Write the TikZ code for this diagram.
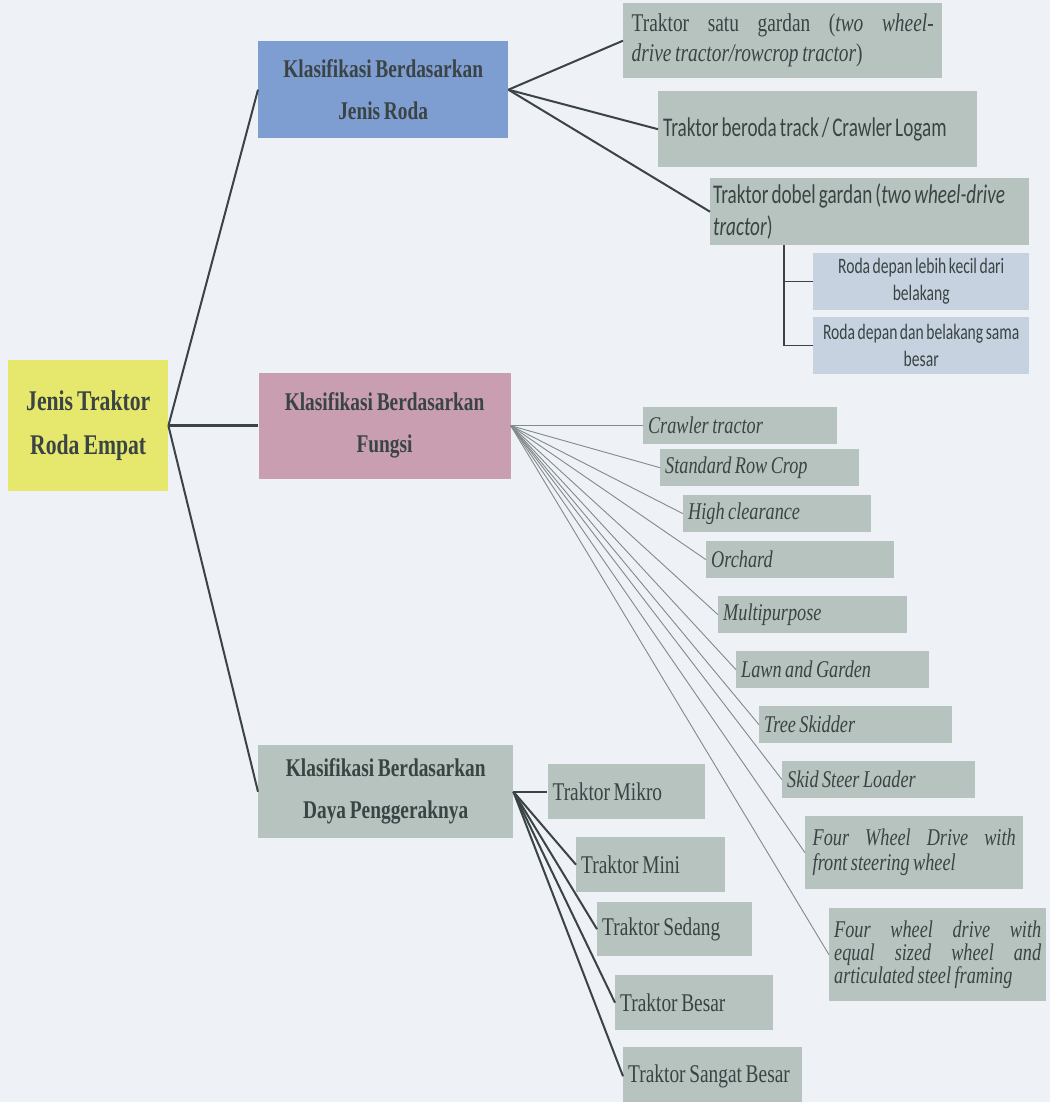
\documentclass[tikz,border=0pt]{standalone}
\usepackage{fontspec}
\setmainfont{Liberation Serif}[FakeStretch=0.76, WordSpace=0.76]
\newfontfamily\calfont{Carlito}[FakeStretch=0.71, WordSpace=0.71]
\usetikzlibrary{positioning}

\definecolor{bgpage}{RGB}{238,241,246}
\definecolor{rootyellow}{RGB}{229,232,108}
\definecolor{rodablue}{RGB}{126,158,210}
\definecolor{fungsipink}{RGB}{200,158,176}
\definecolor{sage}{RGB}{182,195,190}
\definecolor{paleblue}{RGB}{199,210,224}
\definecolor{inkgray}{RGB}{58,68,68}
\definecolor{wiregray}{RGB}{130,138,138}

\begin{document}
\begin{tikzpicture}[
    x=1pt, y=-1pt,
    every node/.style={text=inkgray},
    catbox/.style={
        align=center,
        inner sep=0pt,
        font=\fontsize{25.5}{42}\selectfont\bfseries
    },
    leaf/.style={
        fill=sage,
        align=flush left,
        inner xsep=5pt,
        inner ysep=0pt
    },
    serifitem/.style={leaf, font=\fontsize{25.5}{30}\selectfont},
    slanted/.style={leaf, font=\fontsize{24}{24}\selectfont\itshape},
    calitem/.style={leaf, font=\calfont\fontsize{27}{32}\selectfont},
    wheelbox/.style={
        fill=paleblue,
        align=flush center,
        inner xsep=3pt,
        inner ysep=0pt,
        text width=210pt,
        minimum height=57pt,
        font=\calfont\fontsize{22}{27}\selectfont
    },
    trunk/.style={draw=inkgray, line width=2pt},
    twig/.style={draw=wiregray, line width=0.9pt}
]

\fill[bgpage] (0,0) rectangle (1050,1102);
\useasboundingbox (0,0) rectangle (1050,1102);

% root and the three classes
\node[catbox, anchor=north west, fill=rootyellow, minimum width=160pt, minimum height=131pt,
      font=\fontsize{28.5}{44}\selectfont\bfseries] (root) at (8,360) {Jenis Traktor\\Roda Empat};
\node[catbox, anchor=north west, fill=rodablue, minimum width=250pt, minimum height=97pt] (roda) at (258,41)
    {Klasifikasi Berdasarkan\\Jenis Roda};
\node[catbox, fill=fungsipink, minimum width=252pt, minimum height=106pt, right=90pt of root] (fungsi)
    {Klasifikasi Berdasarkan\\Fungsi};
\node[catbox, anchor=north west, fill=sage, minimum width=255pt, minimum height=93pt] (daya) at (258,745)
    {Klasifikasi Berdasarkan\\Daya Penggeraknya};

\draw[trunk] (root.east) -- (roda.west);
\draw[trunk, line width=3.5pt] (root.east) -- (fungsi.west);
\draw[trunk] (root.east) -- (daya.west);

% jenis roda
\node[serifitem, anchor=north west, align=justify, minimum width=319pt, text width=302pt, minimum height=75pt] (roda1) at (623,3)
    {Traktor satu gardan (\textit{two wheel-}\linebreak\textit{drive tractor/rowcrop tractor})};
\node[calitem, anchor=north west, text width=309pt, minimum height=76pt] (roda2) at (658,91)
    {Traktor beroda track / Crawler Logam};
\node[calitem, anchor=north west, text width=313pt, inner xsep=3pt, minimum height=67pt] (roda3) at (710,178)
    {Traktor dobel gardan (\textit{two wheel-drive}\\\textit{tractor})};
\node[wheelbox, anchor=north west] (wheelA) at (813,253) {Roda depan lebih kecil dari\\belakang};
\node[wheelbox, anchor=north west] (wheelB) at (813,317) {Roda depan dan belakang sama\\besar};

\draw[trunk] (roda.east) -- (roda1.west);
\draw[trunk] (roda.east) -- (roda2.west);
\draw[trunk] (roda.east) -- (roda3.west);
\draw[trunk, line width=1.5pt] ([xshift=74pt]roda3.south west) |- (wheelA.west);
\draw[trunk, line width=1.5pt] ([xshift=74pt]roda3.south west) |- (wheelB.west);

% fungsi
\node[slanted, text width=184pt, minimum height=37pt, right=132pt of fungsi] (crawler) {Crawler tractor};
\node[slanted, anchor=north west, text width=189pt, minimum height=37pt] (rowcrop) at (660,449) {Standard Row Crop};
\node[slanted, anchor=north west, text width=178pt, minimum height=37pt] (clear) at (683,495) {High clearance};
\node[slanted, anchor=north west, text width=178pt, minimum height=37pt] (orchard) at (706,541) {Orchard};
\node[slanted, anchor=north west, text width=179pt, minimum height=37pt] (multi) at (718,596) {Multipurpose};
\node[slanted, anchor=north west, text width=183pt, minimum height=37pt] (lawn) at (736,651) {Lawn and Garden};
\node[slanted, anchor=north west, text width=183pt, minimum height=37pt] (skidder) at (759,706) {Tree Skidder};
\node[slanted, anchor=north west, text width=183pt, minimum height=37pt] (loader) at (782,761) {Skid Steer Loader};
\node[slanted, anchor=north west, align=justify, minimum width=218pt, text width=203pt, minimum height=73pt,
      font=\fontsize{24}{25}\selectfont\itshape] (frontwd) at (805,816)
    {Four Wheel Drive with\linebreak front steering wheel};
\node[slanted, anchor=north west, align=justify, minimum width=217pt, text width=207pt, minimum height=93pt,
      font=\fontsize{24}{23}\selectfont\itshape] (equalwd) at (829,908)
    {Four wheel drive with\linebreak equal sized wheel and\linebreak articulated steel framing};

\draw[twig] (fungsi.east) -- (crawler.west);
\draw[twig] (fungsi.east) -- (rowcrop.west);
\draw[twig] (fungsi.east) -- (clear.west);
\draw[twig] (fungsi.east) -- (orchard.west);
\draw[twig] (fungsi.east) -- (multi.west);
\draw[twig] (fungsi.east) -- (lawn.west);
\draw[twig] (fungsi.east) -- (skidder.west);
\draw[twig] (fungsi.east) -- (loader.west);
\draw[twig] (fungsi.east) -- (frontwd.west);
\draw[twig] (fungsi.east) -- (equalwd.west);

% daya penggerak
\node[serifitem, text width=147pt, minimum height=55pt, right=34pt of daya] (mikro) {Traktor Mikro};
\node[serifitem, anchor=north west, text width=139pt, minimum height=55pt] (mini) at (576,837) {Traktor Mini};
\node[serifitem, anchor=north west, text width=145pt, minimum height=54pt] (sedang) at (597,902) {Traktor Sedang};
\node[serifitem, anchor=north west, text width=148pt, minimum height=55pt] (besar) at (615,975) {Traktor Besar};
\node[serifitem, anchor=north west, text width=169pt, minimum height=58pt] (sangat) at (623,1047) {Traktor Sangat Besar};

\draw[trunk] (daya.east) -- (mikro.west);
\draw[trunk] (daya.east) -- (mini.west);
\draw[trunk] (daya.east) -- (sedang.west);
\draw[trunk] (daya.east) -- (besar.west);
\draw[trunk] (daya.east) -- (sangat.west);

\end{tikzpicture}
\end{document}
